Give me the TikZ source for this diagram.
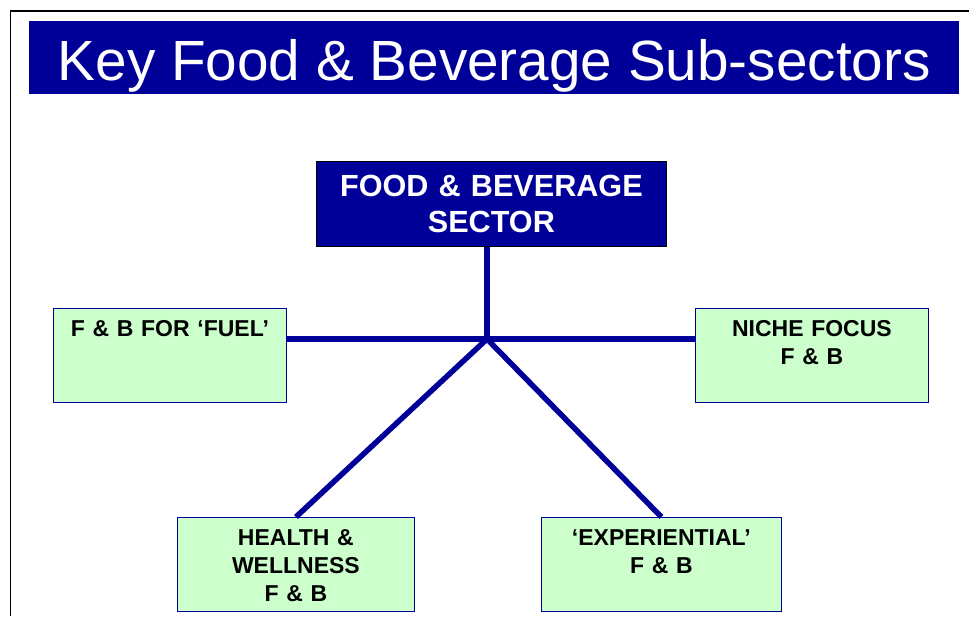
\documentclass[tikz,border=0pt]{standalone}
\usepackage{fontspec}
\setmainfont{Liberation Sans}
\usepackage{tikz}
\definecolor{fbblue}{HTML}{000099}
\definecolor{fbgreen}{HTML}{CCFFCC}

\begin{document}
\begin{tikzpicture}[x=1pt,y=-1pt,
	sub/.style={draw=fbblue,line width=0.8pt,fill=fbgreen,anchor=north west,inner sep=0pt,align=center,
		font=\bfseries\fontsize{23}{28}\selectfont,text height=28pt,text depth=66pt},
	link/.style={draw=fbblue,line width=5.5pt}]
	\useasboundingbox (0,0) rectangle (969,616);
	\draw[line width=1.5pt] (10.5,616) |- (969,11);
	\node[fill=fbblue,text=white,anchor=north west,inner sep=0pt,minimum width=930pt,text height=59pt,text depth=14pt,font=\fontsize{56.7}{60}\selectfont] (title) at (29,21) {Key Food \& Beverage Sub-sectors};
	\node[fill=fbblue,draw=black,line width=0.8pt,text=white,anchor=north west,inner sep=0pt,text width=350pt,align=center,font=\bfseries\fontsize{30.6}{36.6}\selectfont,text height=34.7pt,text depth=50.3pt] (fb) at (316,161) {FOOD \& BEVERAGE\\SECTOR};
	\node[sub,text width=233pt] (fuel) at (53,308) {F \& B FOR `FUEL'};
	\node[sub,text width=233pt] (niche) at (695,308) {NICHE FOCUS\\F \& B};
	\node[sub,text width=237pt] (health) at (177,517) {HEALTH \&\\WELLNESS\\F \& B};
	\node[sub,text width=240pt] (exp) at (541,517) {`EXPERIENTIAL'\\F \& B};
	\coordinate (j) at (487,339);
	\draw[link] (j |- fb.south) -- (j);
	\draw[link] (j -| fuel.east) -- (j -| niche.west);
	\draw[link] (j) -- (health.north);
	\draw[link] (j) -- (exp.north);
\end{tikzpicture}
\end{document}
